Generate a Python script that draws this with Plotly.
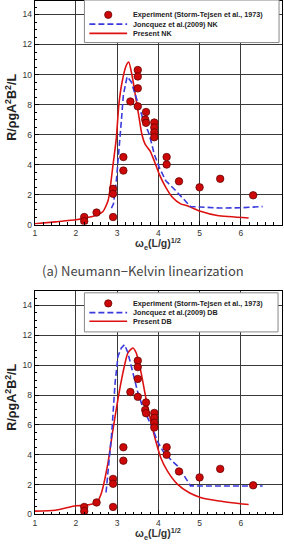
import plotly.graph_objects as go

W, H = 284, 557

# ---------------- data ----------------
exp_x = [2.2, 2.2, 2.5, 2.9, 2.9, 2.9, 3.15, 3.15, 3.32, 3.5, 3.5, 3.5, 3.5,
         3.7, 3.68, 3.7, 3.9, 3.9, 3.9, 3.9, 4.2, 4.2, 4.5, 5.0, 5.5, 6.3]
exp_y = [0.5, 0.22, 0.8, 2.38, 2.05, 0.5, 4.5, 3.6, 8.2, 10.3, 9.87, 9.08, 7.88,
         7.5, 7.0, 6.78, 6.8, 6.47, 6.14, 5.82, 4.5, 4.0, 2.88, 2.48, 3.05, 1.95]

nk_x = [1.0, 1.5, 2.0, 2.2, 2.5, 2.65, 2.78, 2.9, 2.98, 3.04, 3.12, 3.22, 3.28,
        3.36, 3.44, 3.52, 3.60, 3.68, 3.80, 3.90, 4.02, 4.18, 4.34, 4.54, 4.70,
        5.02, 5.43, 6.19]
nk_y = [0.05, 0.18, 0.32, 0.42, 0.62, 0.85, 1.6, 4.0, 5.78, 7.98, 9.51, 10.6, 10.83,
        9.95, 8.64, 7.32, 6.0, 5.34, 4.9, 4.24, 3.36, 2.48, 1.82, 1.38, 1.25,
        0.88, 0.6, 0.44]

jnk_x = [2.86, 2.91, 2.98, 3.04, 3.10, 3.15, 3.24, 3.34, 3.46, 3.62, 3.78, 3.90,
         4.02, 4.18, 4.42, 4.66, 4.78, 5.0, 5.5, 6.0, 6.53]
jnk_y = [1.1, 1.38, 2.92, 4.69, 6.88, 8.64, 9.85, 9.52, 8.42, 7.1, 6.0, 4.69,
         3.81, 2.92, 2.26, 1.6, 1.2, 1.17, 1.1, 1.12, 1.2]

db_x = [1.0, 1.5, 2.0, 2.2, 2.5, 2.61, 2.77, 2.89, 3.02, 3.14, 3.26, 3.38, 3.46,
        3.58, 3.70, 3.82, 3.94, 4.06, 4.22, 4.46, 4.74, 5.02, 5.43, 6.19]
db_y = [0.22, 0.28, 0.58, 0.6, 0.8, 1.37, 3.35, 5.54, 7.74, 9.5, 10.83, 11.15, 10.83,
        9.5, 7.74, 6.2, 4.88, 3.78, 2.9, 2.03, 1.47, 1.14, 0.92, 0.66]

jdb_x = [2.73, 2.87, 2.95, 3.02, 3.10, 3.18, 3.26, 3.38, 3.50, 3.62, 3.74, 3.86,
         3.98, 4.14, 4.34, 4.50, 4.78, 5.0, 5.5, 6.0, 6.53]
jdb_y = [1.47, 5.54, 8.84, 10.6, 11.15, 11.37, 10.83, 9.5, 8.18, 7.19, 6.53, 5.76,
         4.88, 4.11, 3.56, 3.15, 1.91, 1.9, 1.9, 1.9, 1.9]

x_ticks = [1, 2, 3, 4, 5, 6, 7]
y_ticks = [0, 2, 4, 6, 8, 10, 12, 14]

legend_top = ["Experiment (Storm-Tejsen et al., 1973)",
              "Joncquez et al.(2009) NK", "Present NK"]
legend_bot = ["Experiment (Storm-Tejsen et al., 1973)",
              "Joncquez et al.(2009) DB", "Present DB"]
caption = "(a) Neumann\u2212Kelvin linearization"

# ---------------- styles ----------------
RED = "#dd1111"
BLUE = "#3b3bdd"
MFILL = "#cc0808"
MLINE = "#5a0000"
GRID = "#3a3a3a"
FONT = "Liberation Sans, Arial, sans-serif"


def px(x):
    return x / W


def py(y):
    return 1 - y / H


fig = go.Figure()

# top subplot
fig.add_trace(go.Scatter(x=nk_x, y=nk_y, mode="lines", line=dict(color=RED, width=1.6, shape="spline", smoothing=0.6),
                         xaxis="x", yaxis="y", showlegend=False))
fig.add_trace(go.Scatter(x=jnk_x, y=jnk_y, mode="lines", line=dict(color=BLUE, width=1.6, dash="6px,3px"),
                         xaxis="x", yaxis="y", showlegend=False))
fig.add_trace(go.Scatter(x=exp_x, y=exp_y, mode="markers",
                         marker=dict(size=7.5, color=MFILL, line=dict(color=MLINE, width=0.7)),
                         xaxis="x", yaxis="y", showlegend=False))
# bottom subplot
fig.add_trace(go.Scatter(x=db_x, y=db_y, mode="lines", line=dict(color=RED, width=1.6, shape="spline", smoothing=0.6),
                         xaxis="x2", yaxis="y2", showlegend=False))
fig.add_trace(go.Scatter(x=jdb_x, y=jdb_y, mode="lines", line=dict(color=BLUE, width=1.6, dash="6px,3px"),
                         xaxis="x2", yaxis="y2", showlegend=False))
fig.add_trace(go.Scatter(x=exp_x, y=exp_y, mode="markers",
                         marker=dict(size=7.5, color=MFILL, line=dict(color=MLINE, width=0.7)),
                         xaxis="x2", yaxis="y2", showlegend=False))

xdom = [px(33), px(282)]
top_dom = [py(226), 1.0]
bot_dom = [py(519), py(292.7)]

axis_common = dict(showgrid=True, gridcolor=GRID, gridwidth=1, showline=True, linecolor="black",
                   linewidth=1, mirror=True, ticks="inside", ticklen=4, tickcolor="black",
                   zeroline=False, tickfont=dict(family=FONT, size=8.5, color="#333"))

xax = dict(axis_common, range=[1, 7], tickvals=x_ticks,
           minor=dict(dtick=0.2, ticks="inside", ticklen=2.5, tickcolor="black", showgrid=False))
yax = dict(axis_common, tickvals=y_ticks,
           minor=dict(dtick=0.5, ticks="inside", ticklen=2.5, tickcolor="black", showgrid=False))

fig.update_layout(
    width=W, height=H, margin=dict(l=0, r=0, t=0, b=0),
    paper_bgcolor="white", plot_bgcolor="white", showlegend=False,
    xaxis=dict(xax, domain=xdom, anchor="y"),
    yaxis=dict(yax, domain=top_dom, range=[0, 14.9], anchor="x"),
    xaxis2=dict(xax, domain=xdom, anchor="y2"),
    yaxis2=dict(yax, domain=bot_dom, range=[0, 15], anchor="x2"),
)

ann = []
shapes = []


def add_text(x, y, text, size, bold=False, angle=0, anchor="center", color="#222", family=FONT):
    ann.append(dict(x=px(x), y=py(y), xref="paper", yref="paper", text=("<b>%s</b>" % text) if bold else text,
                    showarrow=False, xanchor=anchor, yanchor="middle", textangle=angle,
                    font=dict(family=family, size=size, color=color)))


ytitle = "R/\u03c1gA<sup>2</sup>B<sup>2</sup>/L"
xtitle = "\u03c9<sub>e</sub>(L/g)<sup>1/2</sup>"
add_text(9, 107, ytitle, 12.5, bold=True, angle=-90)
add_text(9, 400, ytitle, 12.5, bold=True, angle=-90)
add_text(157, 246, xtitle, 10.5, bold=True, color="#333")
add_text(157, 539, xtitle, 10.5, bold=True, color="#333")
add_text(142, 272, caption, 13, color="#444", family="Noto Sans CJK KR, Noto Sans, sans-serif")


def legend(box, rows, labels):
    x0, y0, x1, y1 = box
    shapes.append(dict(type="rect", xref="paper", yref="paper", x0=px(x0), x1=px(x1), y0=py(y1), y1=py(y0),
                       line=dict(color="#888", width=1), fillcolor="white", layer="above"))
    r = 3.7
    shapes.append(dict(type="circle", xref="paper", yref="paper", x0=px(107 - r), x1=px(107 + r),
                       y0=py(rows[0] + r), y1=py(rows[0] - r), fillcolor=MFILL,
                       line=dict(color=MLINE, width=0.7), layer="above"))
    shapes.append(dict(type="line", xref="paper", yref="paper", x0=px(88), x1=px(126), y0=py(rows[1]),
                       y1=py(rows[1]), line=dict(color=BLUE, width=1.6, dash="6px,3px"), layer="above"))
    shapes.append(dict(type="line", xref="paper", yref="paper", x0=px(88), x1=px(126), y0=py(rows[2]),
                       y1=py(rows[2]), line=dict(color=RED, width=1.6), layer="above"))
    for yy, lab in zip(rows, labels):
        add_text(130, yy, lab, 7.2, bold=True, anchor="left", color="#222")


legend((83, -1, 279, 42), (14, 23.4, 32.7), legend_top)
legend((83, 295, 278, 334.5), (305.7, 315, 323.7), legend_bot)

fig.update_layout(annotations=ann, shapes=shapes)
fig.write_html("out.html")
